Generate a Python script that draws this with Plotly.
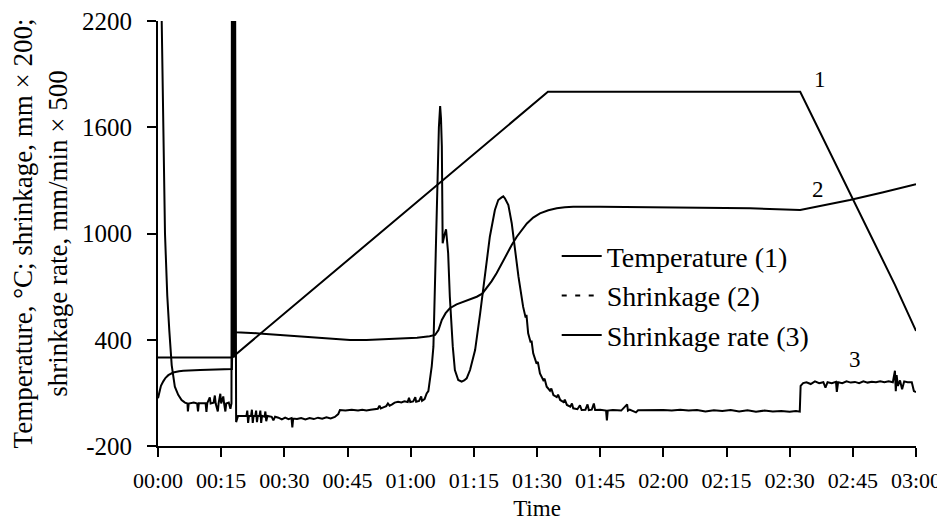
import plotly.graph_objects as go

# ---- data (time in minutes) ----
tick_minutes = [0, 15, 30, 45, 60, 75, 90, 105, 120, 135, 150, 165, 180]
tick_labels = ["00:00", "00:15", "00:30", "00:45", "01:00", "01:15", "01:30",
               "01:45", "02:00", "02:15", "02:30", "02:45", "03:00"]
y_ticks = [-200, 400, 1000, 1600, 2200]
y_tick_labels = ["-200", "400", "1000", "1600", "2200"]

temp_t = [0, 17.6, 92.6, 152.5, 175.0, 180]
temp_v = [300, 300, 1800, 1800, 710, 450]

shr_t = [0, 0.3, 0.7, 1.25, 1.8, 2.45, 3.6, 5.0, 6.0, 10.0, 14.0, 17.55, 17.7,
         18.5, 24, 29.7, 33.7, 37.7, 41.7, 45.6, 49.5, 53.5, 57.5, 61.5, 64.5,
         65.8, 66.6, 67.4, 68.3, 69.3, 70.9, 72.5, 74.1, 75.7, 77.0, 78.0, 79.2,
         80.4, 81.6, 82.8, 84.0, 85.2, 86.4, 87.6, 89.1, 90.7, 92.7, 94.7, 96.6,
         98.6, 105, 116.8, 130, 140.6, 152.5, 158.4, 164.3, 172, 180]
shr_v = [70, 105, 140, 165, 185, 200, 215, 222, 225, 229, 232, 235, 445,
         443, 436, 427, 419, 412, 405, 399, 399, 402, 406, 412, 420,
         427, 455, 512, 550, 578, 600, 615, 630, 643, 660, 690, 730,
         775, 830, 888, 935, 982, 1022, 1057, 1090, 1114, 1131, 1142, 1148,
         1151, 1151, 1148, 1145, 1142, 1133, 1161, 1189, 1232, 1278]

rate_t = [0.0, 0.88, 1.66, 2.2, 2.69, 3.25, 4.0, 4.8, 5.6, 6.4, 7.0, 7.1, 7.3,
          8.5, 9.3, 9.5, 9.7, 10.8, 11.3, 11.5, 11.7, 12.3, 12.5, 13.2, 13.5,
          13.7, 14.2, 14.4, 14.8, 15.0, 15.5, 15.7, 16.0, 16.2, 16.8, 17.2,
          17.45, 17.55, 17.75, 17.9, 18.1, 18.3, 18.55,
          19.0, 20.5, 21.0, 21.2, 21.4, 21.6, 22.1, 22.3, 22.5, 22.7, 23.1, 23.3,
          23.5, 23.7, 24.1, 24.3, 24.5, 24.7, 25.3, 25.5, 25.7, 26.0, 27.0, 27.4,
          27.8, 28.6, 29.4, 30.2, 31.0, 31.7, 31.9, 32.1, 33.0, 34.0, 35.0, 36.0,
          37.0, 38.0, 39.0, 40.0, 41.0, 42.0, 42.8, 43.2, 44.5, 46.0, 47.5, 48.5,
          49.5, 50.5, 51.5, 52.2, 52.6, 52.9, 53.5, 54.2, 54.6, 55.0, 55.6, 56.2,
          57.0, 57.8, 58.5, 59.3, 59.6, 59.9, 60.6, 61.1, 61.3, 62.0, 62.5, 62.7,
          63.3, 63.8, 64.2, 64.6, 65.0, 65.4, 65.8, 66.3, 66.7, 67.0, 67.2, 67.4,
          67.6, 68.0, 68.4, 68.9, 69.3, 70.0, 70.5, 71.3, 72.1, 72.7, 73.3, 74.1,
          75.3, 76.5, 77.7, 78.8, 80.0, 80.8, 81.6, 82.0, 82.4, 83.2, 84.0, 84.8,
          85.6, 86.7, 87.3, 87.5, 87.9, 88.5, 88.7, 89.1, 89.9, 90.2, 90.7, 91.5,
          91.8, 92.3, 93.1, 93.4, 93.9, 94.7, 95.0, 95.5, 96.3, 96.6, 97.1, 97.9,
          98.3, 98.6, 99.6, 100.2, 100.6, 101.5, 102.0, 102.3, 103.0, 103.5, 103.8,
          105, 106.4, 106.6, 106.8, 108, 110, 111.4, 111.6, 112, 113.5, 114, 116,
          118, 120, 122, 124, 126, 128, 130, 132, 134, 136, 138, 140, 142, 144,
          146, 148, 150, 151.5, 152.4, 152.6, 153.2, 154, 155, 156, 157, 158,
          158.5, 159, 160, 161, 161.2, 161.5, 162.5, 163.5, 164.5, 165.5, 166.5,
          167.5, 168.5, 169.5, 170.5, 171.5, 172.5, 173.5, 174.5, 175.0, 175.2,
          175.4, 175.7, 176.2, 176.7, 177.2, 178, 179, 179.5, 180]
rate_v = [2600, 2200, 1000, 650, 450, 257, 135, 89, 60, 45, 40, -5, 40,
          45, 40, -5, 42, 40, 42, -8, 42, 75, 40, 45, 85,
          40, -5, 42, 95, 40, 80, 40, -5, 40, 45, 10,
          40, 2500, 300, 2500, 300, 2500, -65,
          -30, -30, -30, 0, -70, -30, -30, 5, -70, -30, -30, 0,
          -65, -30, -30, 0, -70, -30, -35, -5, -60, -30, -35, -55,
          -35, -40, -50, -40, -48, -42, -95, -45, -48, -42, -50, -42,
          -48, -40, -46, -38, -44, -36, -20, 3, 0, 5, 0, 5,
          0, 5, 8, 10, 28, 12, 18, 25, 40, 28, 35, 45,
          50, 46, 52, 48, 72, 48, 52, 75, 50, 55, 80, 55,
          65, 97, 110, 173, 250, 361, 738, 1302, 1600, 1720, 1650, 1494,
          945, 990, 1024, 888, 643, 361, 229, 173, 163, 170, 182, 229,
          342, 549, 775, 982, 1133, 1189, 1204, 1210, 1198, 1161, 1058, 907,
          756, 587, 525, 540, 436, 385, 395, 323, 265, 275, 210, 172,
          180, 135, 112, 125, 88, 76, 90, 60, 48, 62, 32, 22,
          40, 13, 8, 30, 3, 5, 35, 3, 5, 40, 3,
          5, 0, -55, 0, 3, 0, 35, 0, 5, -10, 2, 3,
          0, 4, 0, 5, 0, 3, -5, 2, -3, 3, -5, 2, -6, 0,
          -5, -2, -6, -3, -6, 140, 155, 160, 150, 165, 155, 160,
          130, 160, 155, 162, 105, 160, 155, 165, 158, 162, 155,
          165, 158, 163, 160, 165, 160, 165, 160, 225, 110,
          200, 140, 170, 120, 165, 160, 160, 110, 105]

curve_labels = ["1", "2", "3"]
label_t = [157.2, 156.7, 165.5]
label_v = [1867, 1246, 286]

FONT = "Liberation Serif"
BLACK = "#000000"

fig = go.Figure()
fig.add_trace(go.Scatter(x=temp_t, y=temp_v, mode="lines", name="Temperature (1)",
                         line=dict(color=BLACK, width=2)))
# legend entry for shrinkage (legend shows a dashed sample)
fig.add_trace(go.Scatter(x=[None], y=[None], mode="lines", name="Shrinkage (2)",
                         line=dict(color=BLACK, width=2, dash="5px,8.5px")))
fig.add_trace(go.Scatter(x=shr_t, y=shr_v, mode="lines", name="Shrinkage (2)",
                         showlegend=False, line=dict(color=BLACK, width=2)))
fig.add_trace(go.Scatter(x=rate_t, y=rate_v, mode="lines", name="Shrinkage rate (3)",
                         line=dict(color=BLACK, width=2)))

for txt, tx, ty in zip(curve_labels, label_t, label_v):
    fig.add_annotation(x=tx, y=ty, text=txt, showarrow=False,
                       font=dict(family=FONT, size=23, color=BLACK))

axis_common = dict(showline=True, linewidth=2, linecolor=BLACK, showgrid=False,
                   zeroline=False, ticks="outside", ticklen=9, tickwidth=2,
                   tickcolor=BLACK, automargin=False, ticklabeloverflow="allow")

fig.update_layout(
    width=937, height=516,
    margin=dict(l=150, r=29, t=13, b=78),
    paper_bgcolor="white", plot_bgcolor="white",
    font=dict(family=FONT, color=BLACK),
    xaxis=dict(range=[0, 180], tickvals=tick_minutes, ticktext=tick_labels,
               tickfont=dict(size=22), ticklabelstandoff=5,
               title=dict(text="Time", font=dict(size=23), standoff=7),
               **axis_common),
    yaxis=dict(range=[-200, 2200], tickvals=y_ticks, ticktext=y_tick_labels,
               tickfont=dict(size=25), ticklabelstandoff=10,
               title=dict(text="Temperature, °C; shrinkage, mm × 200;<br>shrinkage rate, mm/min × 500",
                          font=dict(size=27), standoff=7),
               **axis_common),
    legend=dict(x=0.526, y=0.505, xanchor="left", yanchor="top",
                bgcolor="rgba(0,0,0,0)", font=dict(size=28),
                borderwidth=0, itemwidth=40),
    showlegend=True,
)

fig.write_html("out.html")
